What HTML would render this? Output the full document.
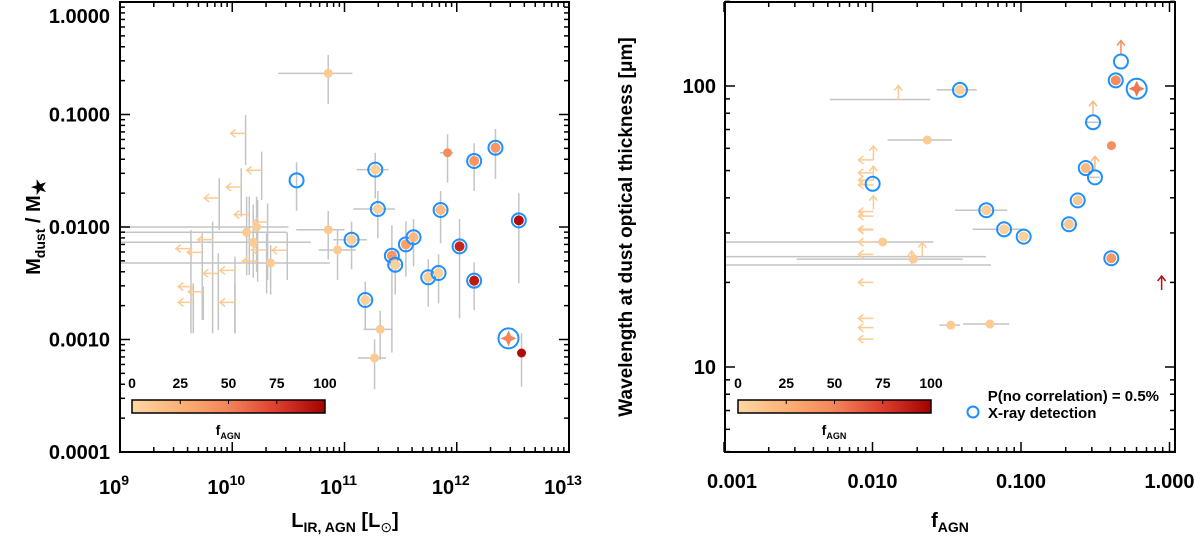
<!DOCTYPE html>
<html><head><meta charset="utf-8">
<style>
html,body{margin:0;padding:0;background:#fff;}
svg{display:block;font-family:"Liberation Sans",sans-serif;font-weight:bold;}
</style></head>
<body>
<svg id="fig" width="1200" height="538" viewBox="0 0 1200 538" xmlns="http://www.w3.org/2000/svg">
<defs>
<linearGradient id="cmap" x1="0" x2="1" y1="0" y2="0">
<stop offset="0" stop-color="#fdd7a2"/><stop offset="0.3" stop-color="#fba96f"/><stop offset="0.5" stop-color="#f4845a"/><stop offset="0.75" stop-color="#dc3e2e"/><stop offset="1" stop-color="#a50000"/>
</linearGradient>
</defs>
<g id="left"></g>
<g id="right"></g>
</svg>
<script>
// ---------- LEFT PANEL DATA (log10 values) ----------
const lLogL  = [10.855,10.573,11.274,11.297,11.918,12.155,12.345,11.856,12.553,12.025,12.155,12.461,12.577,11.063,10.855,10.938,11.422,11.452,11.547,11.615,11.746,11.838,11.185,11.318,11.268,10.128,10.217,10.187,10.342];
const lLogM  = [-0.634,-1.585,-1.490,-1.840,-1.340,-1.413,-1.295,-1.849,-1.941,-2.172,-2.477,-2.990,-3.120,-2.113,-2.024,-2.204,-2.255,-2.335,-2.154,-2.091,-2.447,-2.409,-2.649,-2.910,-3.164,-2.047,-2.000,-2.136,-2.320];
const lF     = [8,0,5,5,45,40,40,20,95,85,90,50,95,5,8,8,40,5,35,20,5,5,5,8,8,8,8,8,8];
const lXray  = [0,1,1,1,0,1,1,1,1,1,1,1,0,1,0,0,1,1,1,1,1,1,1,0,0,0,0,0,0];
const lOpen  = [0,1,0,0,0,0,0,0,0,0,0,0,0,0,0,0,0,0,0,0,0,0,0,0,0,0,0,0,0];
const lXlo   = [10.41,null,11.108,11.08,11.85,null,null,11.80,null,null,null,null,null,10.90,10.57,10.77,null,11.375,null,null,null,11.78,11.14,11.17,11.12,9.0,9.0,9.0,9.0];
const lXhi   = [11.07,null,11.393,11.45,11.97,null,null,11.92,null,null,null,null,null,11.20,11.00,11.10,null,11.51,null,null,null,11.88,11.24,11.43,11.37,10.485,10.50,10.70,10.87];
const lYhi   = [-0.471,-1.425,-1.34,-1.68,-1.176,-1.256,-1.129,-1.68,-1.70,-1.929,-2.314,null,-2.945,-1.952,-1.858,-2.02,-1.985,-2.20,-1.95,-1.93,-2.287,-2.243,-2.486,-2.744,-2.999,-1.73,-1.73,-1.80,-2.16];
const lYlo   = [-0.907,-1.855,-1.745,-2.10,-1.606,-1.68,-1.573,-2.145,-2.50,-2.812,-2.738,null,-3.419,-2.376,-2.288,-2.47,-3.116,-2.60,-2.44,-2.35,-2.708,-2.679,-2.915,-3.18,-3.443,-2.43,-2.40,-2.45,-2.60];
// upper limits in L
const uLogL = [10.119,10.262,10.08,9.884,10.152,10.315,9.825,9.632,9.733,10.49,10.226,9.876,10.024,9.653,9.742,9.653,10.024,10.306];
const uLogM = [-1.168,-1.496,-1.644,-1.742,-1.89,-1.956,-2.112,-2.192,-2.225,-2.207,-2.302,-2.412,-2.385,-2.53,-2.575,-2.67,-2.67,-2.204];
const uYhi  = [-1.004,-1.33,-1.478,-1.567,-1.73,-1.79,-1.952,-2.027,-2.056,-2.047,-1.76,-2.234,-2.264,-2.5,-2.53,-2.53,-2.5,-2.056];
const uYlo  = [-1.449,-1.76,-1.908,-2.027,-2.427,-2.471,-2.945,-2.945,-2.827,-2.471,-2.486,-2.916,-2.945,-2.856,-2.827,-2.945,-2.945,-2.59];
const lXticks = ["9","10","11","12","13"];
const lYticks = ["0.0001","0.0010","0.0100","0.1000","1.0000"];

// ---------- RIGHT PANEL DATA (log10 values) ----------
const rLogF = [-1.411,-0.362,-0.327,-0.221,-0.515,-1.631,-0.391,-0.564,-0.502,-1.999,-0.618,-1.234,-0.677,-1.114,-0.982,-0.392,-1.931,-1.725,-1.473,-1.209];
const rLogW = [1.986,2.020,2.087,1.990,1.871,1.808,1.788,1.708,1.675,1.652,1.593,1.558,1.508,1.490,1.464,1.387,1.445,1.384,1.149,1.153];
const rF    = [5,45,0,55,0,8,45,20,0,0,10,5,10,5,5,40,8,8,8,8];
const rXray = [1,1,1,1,1,0,0,1,1,1,1,1,1,1,1,1,0,0,0,0];
const rOpen = [0,0,1,0,1,0,0,0,1,1,0,0,0,0,0,0,0,0,0,0];
const rXlo  = [-1.568,null,null,null,-0.56,-1.898,null,-0.60,-0.54,null,-0.65,-1.444,-0.72,-1.325,-1.02,-0.42,-3.0,-2.51,-1.55,-1.39];
const rXhi  = [-1.298,null,null,null,-0.47,-1.465,null,-0.53,-0.47,null,-0.59,-1.092,-0.64,-0.973,-0.95,-0.36,-1.59,-1.392,-1.41,-1.079];
// lower limits in wavelength (up arrows)
const laF   = [-0.327,-0.515,-0.502,-0.053,-1.826,-1.665,-1.736,-1.994,-1.994,-1.994];
const laW   = [2.087,1.871,1.675,1.274,1.952,1.393,1.363,1.737,1.665,1.56];
const laC   = [45,20,20,92,8,8,8,8,8,8];
const laXlo = [null,null,null,null,-2.286,-3.0,-3.0,null,null,null];
const laXhi = [null,null,null,null,-1.613,-1.236,-1.202,null,null,null];
// upper limits in fAGN (left arrows)
const ulF = [-1.994,-1.994,-1.994,-1.994,-1.994,-1.994,-1.994,-1.994,-1.994,-1.994,-1.994,-1.994,-1.994,-1.994];
const ulW = [1.737,1.691,1.665,1.648,1.553,1.537,1.49,1.488,1.444,1.401,1.301,1.173,1.14,1.099];
const rXticks = ["0.001","0.010","0.100","1.000"];
const rYticks = ["10","100"];
const cbTicks = ["0","25","50","75","100"];

const NS="http://www.w3.org/2000/svg";
function mk(tag,attrs,parent){const e=document.createElementNS(NS,tag);for(const k in attrs)e.setAttribute(k,attrs[k]);parent.appendChild(e);return e;}
function cmap(f){
  const st=[[0,[253,215,162]],[30,[251,169,111]],[50,[244,132,90]],[75,[220,62,46]],[100,[165,0,0]]];
  for(let i=0;i<st.length-1;i++){if(f<=st[i+1][0]){const t=(f-st[i][0])/(st[i+1][0]-st[i][0]);const a=st[i][1],b=st[i+1][1];return `rgb(${a.map((v,j)=>Math.round(v+(b[j]-v)*t)).join(',')})`;}}
  return 'rgb(165,0,0)';
}
const GRAY="#c4c4c4", BLUE="#1e90ff";

function axesBox(g,x0,y0,x1,y1){
  const r=mk('rect',{x:x0,y:y0,width:x1-x0,height:y1-y0,fill:'none',stroke:'#000','stroke-width':2},g);
  
  
}
function logTicks(g,dmin,dmax,sc,fixed0,fixed1,horiz,minor){
  for(let d=Math.floor(dmin);d<=Math.ceil(dmax);d++){
    for(let m=1;m<=9;m++){
      if(!minor && m>1) continue;
      const v=d+Math.log10(m); if(v<dmin-1e-6||v>dmax+1e-6) continue;
      const p=sc(v), L=m===1?10:5;
      let a,b;
      if(horiz){a=mk('line',{x1:p,x2:p,y1:fixed1,y2:fixed1-L,stroke:'#000','stroke-width':1.5},g);b=mk('line',{x1:p,x2:p,y1:fixed0,y2:fixed0+L,stroke:'#000','stroke-width':1.5},g);}
      else{a=mk('line',{y1:p,y2:p,x1:fixed0,x2:fixed0+L,stroke:'#000','stroke-width':1.5},g);b=mk('line',{y1:p,y2:p,x1:fixed1,x2:fixed1-L,stroke:'#000','stroke-width':1.5},g);}
      
      
    }
  }
}
function line(g,x1,y1,x2,y2,c,w,name){const l=mk('line',{x1,y1,x2,y2,stroke:c,'stroke-width':w},g);return l;}
function arrowLeft(g,x,y,c){const p=mk('path',{d:`M${x},${y}H${x-15}M${x-10},${y-4}L${x-15},${y}L${x-10},${y+4}`,stroke:c,'stroke-width':1.5,fill:'none'},g);}
function arrowUp(g,x,y,c){const p=mk('path',{d:`M${x},${y}V${y-14}M${x-4},${y-9}L${x},${y-14}L${x+4},${y-9}`,stroke:c,'stroke-width':1.5,fill:'none'},g);}
function point(g,x,y,f,xray,open,big){
  if(big){
    const c=mk('circle',{cx:x,cy:y,r:10,fill:'#fff',stroke:BLUE,'stroke-width':2},g);
    
    const s=mk('path',{d:`M${x},${y-8}L${x+2.5},${y-2.5}L${x+8},${y}L${x+2.5},${y+2.5}L${x},${y+8}L${x-2.5},${y+2.5}L${x-8},${y}L${x-2.5},${y-2.5}Z`,fill:cmap(f)},g);
    
    return;
  }
  if(!open){const d=mk('circle',{cx:x,cy:y,r:xray?5:4.5,fill:cmap(f)},g);}
  if(xray){const c=mk('circle',{cx:x,cy:y,r:7,fill:'none',stroke:BLUE,'stroke-width':2},g);}
}
function txt(g,x,y,s,size,anchor,name){const t=mk('text',{x,y,'font-size':size,'text-anchor':anchor||'start'},g);t.textContent=s;return t;}
function colorbar(g,x0,y0){
  const r=mk('rect',{x:x0,y:y0,width:193,height:13,fill:'url(#cmap)',stroke:'#000','stroke-width':1.5},g);
  
  cbTicks.forEach((s,i)=>{const x=x0+i*193/4;txt(g,x,y0-12,s,14,'middle','colorbar-tick-label');
    if(i>0&&i<4){line(g,x,y0,x,y0+4,'#000',1,'colorbar-tick');}});
  const t=txt(g,x0+96,y0+35,'f',14,'middle','colorbar-title');
  const ts=mk('tspan',{'font-size':9,dy:4},t);ts.textContent='AGN';
}

// ---------- LEFT ----------
(function(){
  const g=document.getElementById('left');
  const X=v=>120+(v-9)*112.25, Y=v=>2+(0-v)*112.5;
  uLogL.forEach((v,i)=>{line(g,X(v),Y(uYhi[i]),X(v),Y(uYlo[i]),GRAY,1.5,'error-bar');});
  lLogL.forEach((v,i)=>{
    if(lYhi[i]!==null) line(g,X(v),Y(lYhi[i]),X(v),Y(lYlo[i]),GRAY,1.5,'error-bar');
    if(lXlo[i]!==null) line(g,X(lXlo[i]),Y(lLogM[i]),X(lXhi[i]),Y(lLogM[i]),GRAY,1.5,'error-bar');
  });
  uLogL.forEach((v,i)=>arrowLeft(g,X(v),Y(uLogM[i]),cmap(8)));
  lLogL.forEach((v,i)=>point(g,X(v),Y(lLogM[i]),lF[i],lXray[i],lOpen[i],i===11));
  axesBox(g,120,2,569,452);
  logTicks(g,9,13,X,2,452,true,true);
  logTicks(g,-4,0,Y,120,569,false,true);
  lXticks.forEach((s,i)=>{const t=txt(g,X(9+i)-6,494,'10',20,'middle','x-tick-label');const sp=mk('tspan',{dy:-9,'font-size':14},t);sp.textContent=s;});
  lYticks.forEach((s,i)=>txt(g,110,Math.max(Y(-4+i)+7,23),s,20,'end','y-tick-label'));
  const yl=txt(g,0,0,'M',20,'middle','y-axis-title');yl.setAttribute('transform','translate(40,227) rotate(-90)');
  let sp=mk('tspan',{dy:5,'font-size':14},yl);sp.textContent='dust';
  sp=mk('tspan',{dy:-5},yl);sp.textContent=' / M';
  sp=mk('tspan',{dy:5,'font-size':18},yl);sp.textContent='★';
  const xl=txt(g,345,527,'L',20,'middle','x-axis-title');
  sp=mk('tspan',{dy:5,'font-size':14},xl);sp.textContent='IR, AGN';
  sp=mk('tspan',{dy:-5},xl);sp.textContent=' [L';
  sp=mk('tspan',{dy:5,'font-size':14,'font-weight':'normal'},xl);sp.textContent='⊙';
  sp=mk('tspan',{dy:-5},xl);sp.textContent=']';
  colorbar(g,132,400);
})();

// ---------- RIGHT ----------
(function(){
  const g=document.getElementById('right');
  const X=v=>724+(v+3)*148.5, Y=v=>367-(v-1)*281;
  const xc=v=>Math.max(725,X(v));
  rLogF.forEach((v,i)=>{if(rXlo[i]!==null) line(g,xc(rXlo[i]),Y(rLogW[i]),X(rXhi[i]),Y(rLogW[i]),GRAY,1.5,'error-bar');});
  laF.forEach((v,i)=>{if(laXlo[i]!==null) line(g,xc(laXlo[i]),Y(laW[i]),X(laXhi[i]),Y(laW[i]),GRAY,1.5,'error-bar');});
  ulF.forEach((v,i)=>arrowLeft(g,X(v),Y(ulW[i]),cmap(8)));
  laF.forEach((v,i)=>arrowUp(g,X(v),Y(laW[i])-(i<3?7:0),cmap(laC[i])));
  rLogF.forEach((v,i)=>point(g,X(v),Y(rLogW[i]),rF[i],rXray[i],rOpen[i],i===3));
  axesBox(g,725,2,1175,452);
  logTicks(g,-3,Math.log10(1.08),X,2,452,true,true);
  logTicks(g,Math.log10(5),Math.log10(200),Y,725,1175,false,true);
  rXticks.forEach((s,i)=>txt(g,X(-3+i)+(i===0?8:0),488,s,20,'middle','x-tick-label'));
  rYticks.forEach((s,i)=>txt(g,716,Y(1+i)+7,s,20,'end','y-tick-label'));
  const yl=txt(g,0,0,'Wavelength at dust optical thickness [μm]',19,'middle','y-axis-title');yl.setAttribute('transform','translate(632,227) rotate(-90)');
  const xl=txt(g,950,527,'f',20,'middle','x-axis-title');
  const sp=mk('tspan',{dy:5,'font-size':14},xl);sp.textContent='AGN';
  colorbar(g,738,400);
  txt(g,1159,401,'P(no correlation) = 0.5%',15,'end','correlation-annotation');
  const c=mk('circle',{cx:973,cy:412,r:5.5,fill:'none',stroke:BLUE,'stroke-width':2},g);
  
  txt(g,988,418,'X-ray detection',15,'start','legend-xray-label');
})();
</script>
</body></html>
